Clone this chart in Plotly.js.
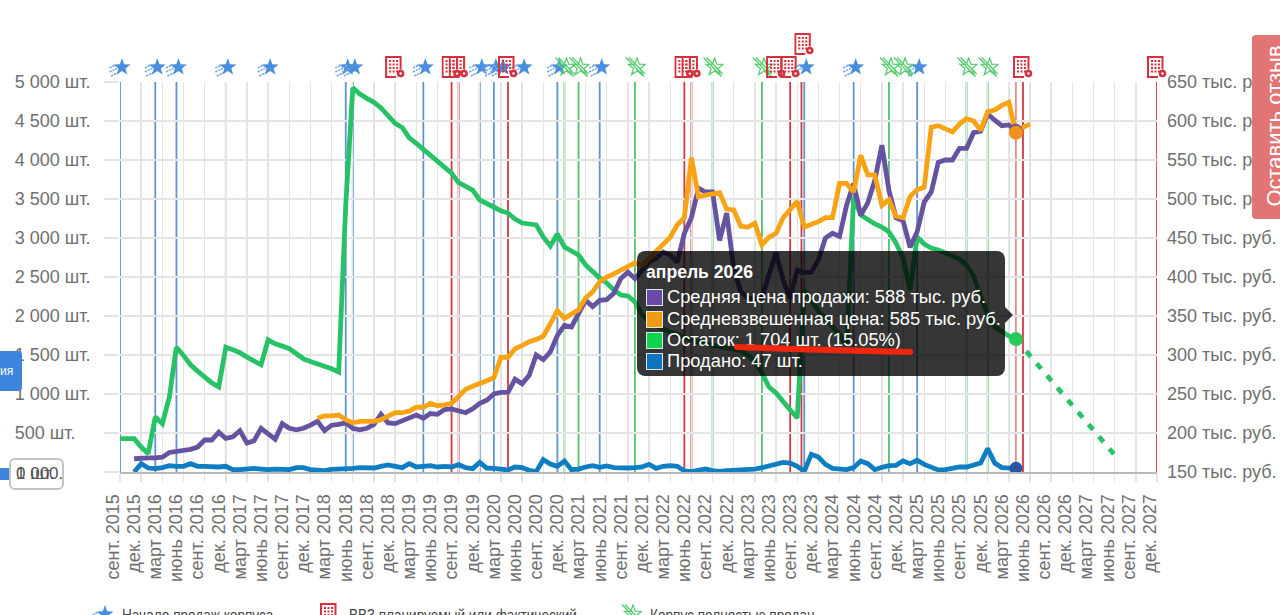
<!DOCTYPE html>
<html>
<head>
<meta charset="utf-8">
<script src="https://cdn.plot.ly/plotly-3.0.1.min.js"></script>
<style>
html, body { margin: 0; padding: 0; background: #fff; overflow: hidden; }
#page { position: relative; width: 1280px; height: 615px; overflow: hidden; font-family: "Liberation Sans", Arial, sans-serif; }
#chart { position: absolute; left: 0; top: 0; }
.tip { position: absolute; left: 637px; top: 251px; width: 368px; height: 125px; background: rgba(0,0,0,0.79); border-radius: 8px; color: #fff; font-size: 18.3px; }
.tip b { position: absolute; left: 9px; top: 11px; font-size: 17.6px; }
.tip .row { position: absolute; left: 9px; white-space: nowrap; line-height: 21px; }
.tip .row i { display: inline-block; width: 15px; height: 15px; border: 1.5px solid #dfe6ee; margin-right: 4px; vertical-align: -3px; }
.tip:after { content: ""; position: absolute; left: 368px; top: 56px; border: 8px solid transparent; border-left-color: rgba(0,0,0,0.79); border-right-width: 0; }
.legend { position: absolute; top: 606px; font-size: 17px; color: #444; white-space: nowrap; transform: scaleX(0.8); transform-origin: left center; }
.legendIcon { position: absolute; }
</style>
</head>
<body>
<div id="page">
  <div id="chart"></div>

  <div class="tip">
    <b>апрель 2026</b>
    <div class="row" style="top:35px"><i style="background:#6a49a8"></i>Средняя цена продажи: 588 тыс. руб.</div>
    <div class="row" style="top:57px"><i style="background:#ee9c10"></i>Средневзвешенная цена: 585 тыс. руб.</div>
    <div class="row" style="top:78px"><i style="background:#0fd34f"></i>Остаток: 1 704 шт. (15.05%)</div>
    <div class="row" style="top:99px"><i style="background:#0f74bf"></i>Продано: 47 шт.</div>
  </div>

  <svg style="position:absolute;left:0;top:0;pointer-events:none" width="1280" height="615">
    <path d="M737 347 Q 820 350 910 352" fill="none" stroke="#f0260f" stroke-width="6" stroke-linecap="round"/>
  </svg>

  <div style="position:absolute;left:0;top:351px;width:22px;height:40px;background:#3c84dc;border-radius:0 4px 4px 0;color:#fff;font-size:12px;line-height:41px">ия</div>
  <div style="position:absolute;left:0;top:468px;width:12px;height:12px;background:#3c84dc"></div>
  <div style="position:absolute;left:9px;top:458px;width:51px;height:28px;background:#fff;border:2px solid #c4c4c4;border-radius:6px;color:#555;font-size:17px;line-height:28px;white-space:nowrap">
    <span style="position:absolute;left:5px">0 шт.</span>
    <span style="position:absolute;left:5px">1 000.</span>
  </div>

  <div style="position:absolute;left:1252px;top:35px;width:40px;height:184px;background:#e27474;border-radius:4px">
    <div style="position:absolute;left:-69px;top:78px;width:184px;text-align:center;transform:rotate(-90deg);color:#fff;font-size:22px;white-space:nowrap">Оставить отзыв</div>
  </div>

  <img class="legendIcon" id="legendStar" style="left:92px;top:604px" width="22" height="20">
  <div class="legend" style="left:122px">Начало продаж корпуса</div>
  <img class="legendIcon" id="legendBuilding" style="left:320px;top:603px" width="20" height="22">
  <div class="legend" style="left:349px">ВВЗ планируемый или фактический</div>
  <img class="legendIcon" id="legendSold" style="left:620px;top:604px" width="22" height="20">
  <div class="legend" style="left:650px">Корпус полностью продан</div>
</div>

<script>
// Tick labels, one every 3 months starting from sept 2015
const tickLabels = [
    'сент. 2015','дек. 2015','март 2016','июнь 2016','сент. 2016','дек. 2016','март 2017','июнь 2017',
    'сент. 2017','дек. 2017','март 2018','июнь 2018','сент. 2018','дек. 2018','март 2019','июнь 2019',
    'сент. 2019','дек. 2019','март 2020','июнь 2020','сент. 2020','дек. 2020','март 2021','июнь 2021',
    'сент. 2021','дек. 2021','март 2022','июнь 2022','сент. 2022','дек. 2022','март 2023','июнь 2023',
    'сент. 2023','дек. 2023','март 2024','июнь 2024','сент. 2024','дек. 2024','март 2025','июнь 2025',
    'сент. 2025','дек. 2025','март 2026','июнь 2026','сент. 2026','дек. 2026','март 2027','июнь 2027',
    'сент. 2027','дек. 2027'
];
const unitTicks = [0, 500, 1000, 1500, 2000, 2500, 3000, 3500, 4000, 4500, 5000];
// The two short labels are padded so they stay left aligned with the others
const unitLabels = ['0 шт.\u00a0\u00a0\u00a0\u00a0\u00a0\u00a0\u00a0','500 шт.\u00a0\u00a0\u00a0','1 000 шт.','1 500 шт.','2 000 шт.','2 500 шт.','3 000 шт.','3 500 шт.','4 000 шт.','4 500 шт.','5 000 шт.'];
const priceTicks = [150, 200, 250, 300, 350, 400, 450, 500, 550, 600, 650];
const priceLabels = priceTicks.map(p => p + ' тыс. руб.');

// Series, one value per month. Index 0 is sept 2015
const stockStart = 0;
const stock = [427,427,427,320,235,705,620,960,1600,1495,1375,1294,1217,1144,1090,1600,1567,1530,1473,1418,1375,1695,1644,1614,1580,1516,1452,1418,1388,1366,1324,1281,
    3423,4925,4846,4790,4740,4667,4568,4470,4417,4283,4213,4135,4050,3985,3906,3830,3710,3667,3615,3487,3436,3397,3350,3320,3244,3192,3180,3167,3013,2897,3051,2885,2833,2782,
    2654,2564,2487,2423,2333,2269,2256,2179,2025,1923,1872,1833,1795,1756,1718,1692,1667,1641,1628,1603,1590,1577,1551,1500,1410,1269,1090,1013,897,795,692,
    2333,2205,2064,1974,1872,1756,1628,3526,3295,3231,3180,3141,3077,2936,2744,2333,3013,2923,2872,2846,2808,2769,2730,2654,2513,2256,2013,1859,1795,1744,1704];
const forecastX = [127, 141];
const forecast = [1704, 218];

const avgPriceStart = 2;
const avgPrice = [167,168,168,168,169,175,176,177,179,182,191,191,201,193,195,203,187,190,206,199,192,212,206,204,206,210,215,203,210,211,213,206,204,206,211,224,213,212,216,219,223,219,225,224,230,231,228,226,231,238,242,250,252,252,269,263,274,300,294,304,325,338,336,353,370,362,370,371,379,398,406,398,
    409,419,424,432,428,419,456,476,514,509,509,447,482,411,381,373,372,374,403,431,396,373,409,406,406,422,450,456,452,492,520,479,495,524,569,511,476,472,438,458,496,509,547,550,550,565,565,585,587,609,601,594,595,588];

const weightedPriceStart = 28;
const weightedPrice = [219,222,222,223,217,213,215,215,215,217,221,226,226,228,233,233,238,235,236,238,247,256,260,263,267,271,297,297,308,312,317,320,324,340,357,347,353,358,373,381,394,400,404,409,414,418,
    415,424,433,444,451,467,476,553,503,505,506,508,487,486,465,464,469,441,451,456,476,487,497,464,467,471,476,476,520,520,509,556,531,531,492,499,478,476,503,512,515,592,594,590,586,596,603,600,588,612,614,620,624,585,592,596];

const soldStart = 2;
const sold = [0,107,51,43,56,81,73,73,107,73,73,64,64,73,30,30,43,47,38,30,38,30,30,56,56,30,26,17,34,34,38,47,56,56,51,73,90,73,56,107,64,73,81,64,73,64,94,56,43,124,51,47,43,26,64,56,21,4,158,103,73,141,30,38,64,81,60,77,56,47,51,56,
    64,98,47,73,81,73,13,4,17,38,17,9,17,21,26,26,38,56,77,90,124,115,73,9,226,192,98,47,43,30,56,141,107,30,60,81,85,141,107,150,98,56,26,30,47,64,64,94,115,299,115,56,47,47];

// Month the tooltip is opened on (апрель 2026)
const currentMonth = 127;

// Building events on the chart, as month numbers
const salesStartMonths = [0, 5, 8, 15, 21, 32, 33, 43, 51, 53, 54, 57, 62, 68, 97, 104, 113];
const completionMonths = [39, 47, 48, 55, 80, 81, 93, 95, 96.6, 128, 147];
const raisedCompletionIcon = [97];
const lowerCompletionIcons = [39, 47, 48, 55, 80, 81, 93, 95, 128, 147];
const soldOutMonths = [63, 65, 73, 84, 91, 109, 111, 120, 123];

function svgUri(svg) {
    return 'data:image/svg+xml;charset=utf-8,' + encodeURIComponent(svg);
}

const starPoints = '13,1 15.2,7.2 21.5,7.4 16.5,11.4 18.3,17.6 13,14 7.7,17.6 9.5,11.4 4.5,7.4 10.8,7.2';
const starIcon = svgUri('<svg xmlns="http://www.w3.org/2000/svg" width="22" height="20" viewBox="0 0 22 20">' +
    '<g stroke="#7aa9e4" stroke-width="1.6" stroke-dasharray="2.4 0.8"><line x1="0.5" y1="11" x2="6" y2="8.2"/><line x1="0.5" y1="15" x2="8" y2="11.5"/><line x1="2" y1="19" x2="9" y2="15.5"/></g>' +
    '<polygon points="' + starPoints + '" fill="#4a8ede"/></svg>');
const soldIcon = svgUri('<svg xmlns="http://www.w3.org/2000/svg" width="22" height="20" viewBox="0 0 22 20">' +
    '<polygon points="' + starPoints + '" fill="none" stroke="#55cc70" stroke-width="1.3"/>' +
    '<g stroke="#55cc70" stroke-width="1.4"><line x1="2" y1="0.5" x2="20" y2="19.5"/><line x1="5" y1="0.5" x2="21" y2="17"/></g></svg>');
let windows = '';
[4, 7.5, 11].forEach(cx => [4, 7.5, 11, 14.5].forEach(cy => {
    windows += '<rect x="' + cx + '" y="' + cy + '" width="2" height="2" fill="#d5303c"/>';
}));
const buildingIcon = svgUri('<svg xmlns="http://www.w3.org/2000/svg" width="20" height="22" viewBox="0 0 20 22">' +
    '<path d="M15.5 13.5V1H1V21H11" fill="none" stroke="#d5303c" stroke-width="2"/>' + windows +
    '<circle cx="15.5" cy="17.5" r="3.8" fill="#d5303c"/><circle cx="15.5" cy="17.5" r="1.2" fill="#fff"/></svg>');

document.getElementById('legendStar').src = starIcon;
document.getElementById('legendBuilding').src = buildingIcon;
document.getElementById('legendSold').src = soldIcon;

// Plot box in pixels
const plot = { left: 120, right: 1157, top: 82, bottom: 472 };
const plotWidth = plot.right - plot.left;
const plotHeight = plot.bottom - plot.top;
const lastMonth = 147;

function verticalLines(months, color) {
    return months.map(m => ({
        type: 'line', xref: 'x', yref: 'paper', x0: m, x1: m, y0: 0, y1: 1, layer: 'below',
        line: { color: color, width: 1.8 }
    }));
}

// Paper coordinates here, images placed on the x axis get clipped at the plot edge
function icons(months, source, width, height, bottom) {
    return months.map(m => ({
        source: source, xref: 'paper', yref: 'paper', x: m / lastMonth, y: (plot.bottom - bottom) / plotHeight,
        sizex: width / plotWidth, sizey: height / plotHeight,
        xanchor: 'center', yanchor: 'bottom', sizing: 'stretch', layer: 'above'
    }));
}

function seriesTrace(values, start, name, color, yaxis) {
    return {
        x: values.map((_, k) => k + start), y: values, name: name, yaxis: yaxis,
        type: 'scatter', mode: 'lines',
        line: { color: color, width: 4.8, shape: 'linear' }
    };
}

function pointTrace(value, color, yaxis, size) {
    return {
        x: [currentMonth], y: [value], yaxis: yaxis, type: 'scatter', mode: 'markers',
        marker: { color: color, size: size }
    };
}

const traces = [
    seriesTrace(stock, stockStart, 'Остаток', '#27c266', 'y'),
    {
        x: forecastX, y: forecast, name: 'Прогноз', type: 'scatter', mode: 'lines',
        line: { color: '#27c266', width: 4.8, dash: '7px 9px' }
    },
    seriesTrace(avgPrice, avgPriceStart, 'Средняя цена продажи', '#6653a0', 'y2'),
    seriesTrace(weightedPrice, weightedPriceStart, 'Средневзвешенная цена', '#f7a313', 'y2'),
    seriesTrace(sold, soldStart, 'Продано', '#0f7dc2', 'y'),
    pointTrace(avgPrice[currentMonth - avgPriceStart], '#6653a0', 'y2', 13),
    pointTrace(weightedPrice[currentMonth - weightedPriceStart], '#f0921c', 'y2', 14),
    pointTrace(stock[currentMonth - stockStart], '#27c95a', 'y', 14),
    pointTrace(sold[currentMonth - soldStart], '#27559f', 'y', 13)
];

const axisFont = { family: '"Liberation Sans", Arial, sans-serif', size: 18, color: '#6f6f6f' };

const layout = {
    width: 1280,
    height: 615,
    margin: { l: plot.left, r: 1280 - plot.right, t: plot.top, b: 615 - plot.bottom, pad: 0 },
    paper_bgcolor: 'rgba(0,0,0,0)',
    plot_bgcolor: 'rgba(0,0,0,0)',
    showlegend: false,
    hovermode: false,
    xaxis: {
        type: 'linear',
        range: [0, lastMonth],
        tickmode: 'array',
        tickvals: tickLabels.map((_, k) => k * 3),
        ticktext: tickLabels,
        tickangle: -90,
        tickfont: axisFont,
        ticks: 'outside',
        ticklen: 8,
        tickcolor: '#e4e4e4',
        tickwidth: 1.4,
        ticklabelstandoff: 5,
        ticklabelshift: -7,
        showgrid: true,
        gridcolor: '#e4e4e4',
        gridwidth: 1.4,
        zeroline: false,
        showline: true,
        linecolor: '#b9b9b9',
        linewidth: 2
    },
    yaxis: {
        range: [0, 5000],
        tickmode: 'array',
        tickvals: unitTicks,
        ticktext: unitLabels,
        tickfont: axisFont,
        ticks: 'outside',
        ticklen: 15,
        tickcolor: '#e4e4e4',
        tickwidth: 1.4,
        ticklabelstandoff: 10,
        showgrid: true,
        gridcolor: '#e4e4e4',
        gridwidth: 1.4,
        zeroline: false
    },
    yaxis2: {
        range: [150, 650],
        overlaying: 'y',
        side: 'right',
        tickmode: 'array',
        tickvals: priceTicks,
        ticktext: priceLabels,
        tickfont: axisFont,
        ticks: '',
        ticklabelstandoff: 9,
        showgrid: false,
        zeroline: false
    },
    shapes: [
        ...verticalLines(salesStartMonths, '#5f93d2'),
        ...verticalLines(completionMonths, '#cf3a42'),
        ...verticalLines(soldOutMonths, '#4fc46c'),
        ...verticalLines([currentMonth], '#e58f88')
    ],
    images: [
        ...icons(salesStartMonths, starIcon, 22, 20, 77),
        ...icons(soldOutMonths, soldIcon, 22, 20, 77),
        ...icons(lowerCompletionIcons, buildingIcon, 20, 22, 78),
        ...icons(raisedCompletionIcon, buildingIcon, 20, 22, 55)
    ]
};

Plotly.newPlot('chart', traces, layout, { staticPlot: true, displayModeBar: false });
</script>
</body>
</html>
